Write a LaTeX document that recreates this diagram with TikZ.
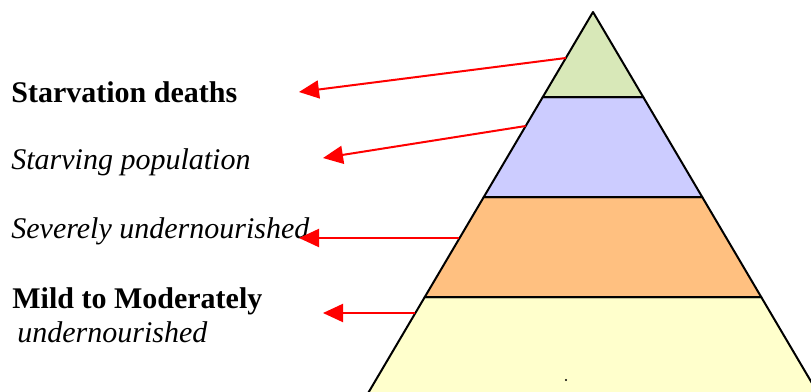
\documentclass[tikz,border=0pt]{standalone}
\usepackage{fontspec}
\setmainfont{Liberation Serif}
\usepackage{xcolor}
\usetikzlibrary{arrows.meta,calc}

\definecolor{tipgreen}{RGB}{216,232,184}
\definecolor{starvblue}{RGB}{204,204,255}
\definecolor{severeorange}{RGB}{255,192,128}
\definecolor{mildyellow}{RGB}{255,255,204}

\begin{document}
\begin{tikzpicture}[x=0.5pt,y=-0.5pt,
  lbl/.style={anchor=base west,inner sep=0pt,font=\fontsize{15}{18}\selectfont},
  pointer/.style={red,line width=1pt,-{Triangle[length=10pt,width=9pt]}},
  layer/.style={draw=black,line width=1pt,line join=round}]
\useasboundingbox (0,0) rectangle (811,392);
\clip (0,0) rectangle (811,392);
 % pyramid corners
 \coordinate (apex) at (593,12);
 \coordinate (l1) at (542.8,97);  \coordinate (r1) at (643.2,97);
 \coordinate (l2) at (483.8,197); \coordinate (r2) at (702.2,197);
 \coordinate (l3) at (424.8,297); \coordinate (r3) at (761.2,297);
 \coordinate (l4) at (366.4,396); \coordinate (r4) at (819.6,396);
 % layers
 \filldraw[layer,fill=mildyellow] (l3) -- (r3) -- (r4) -- (l4) -- cycle;
 \filldraw[layer,fill=severeorange] (l2) -- (r2) -- (r3) -- (l3) -- cycle;
 \filldraw[layer,fill=starvblue] (l1) -- (r1) -- (r2) -- (l2) -- cycle;
 \filldraw[layer,fill=tipgreen] (apex) -- (r1) -- (l1) -- cycle;
 \fill (566,380) circle (1.2);
 % labels
 \node[lbl] (deaths) at (11,102) {\bfseries Starvation deaths};
 \node[lbl] (starving) at (11,169) {\itshape Starving population};
 \node[lbl] (severe) at (11,238) {\itshape Severely undernourished};
 \node[lbl] (mild) at (12,308) {\bfseries Mild to Moderately};
 \node[lbl] (mildsub) at (17,342) {\itshape undernourished};
 % arrows
 \coordinate (s1) at (565.9,58);  \coordinate (t1) at (299,92);
 \coordinate (s2) at (525.7,126); \coordinate (t2) at (323,158);
 \coordinate (s3) at (458.5,238); \coordinate (t3) at (299,238);
 \coordinate (s4) at (415.4,313); \coordinate (t4) at (323,313);
 \draw[pointer] (s1) -- (t1);
 \draw[pointer] (s2) -- (t2);
 \draw[pointer] (s3) -- (t3);
 \draw[pointer] (s4) -- (t4);
\end{tikzpicture}
\end{document}
